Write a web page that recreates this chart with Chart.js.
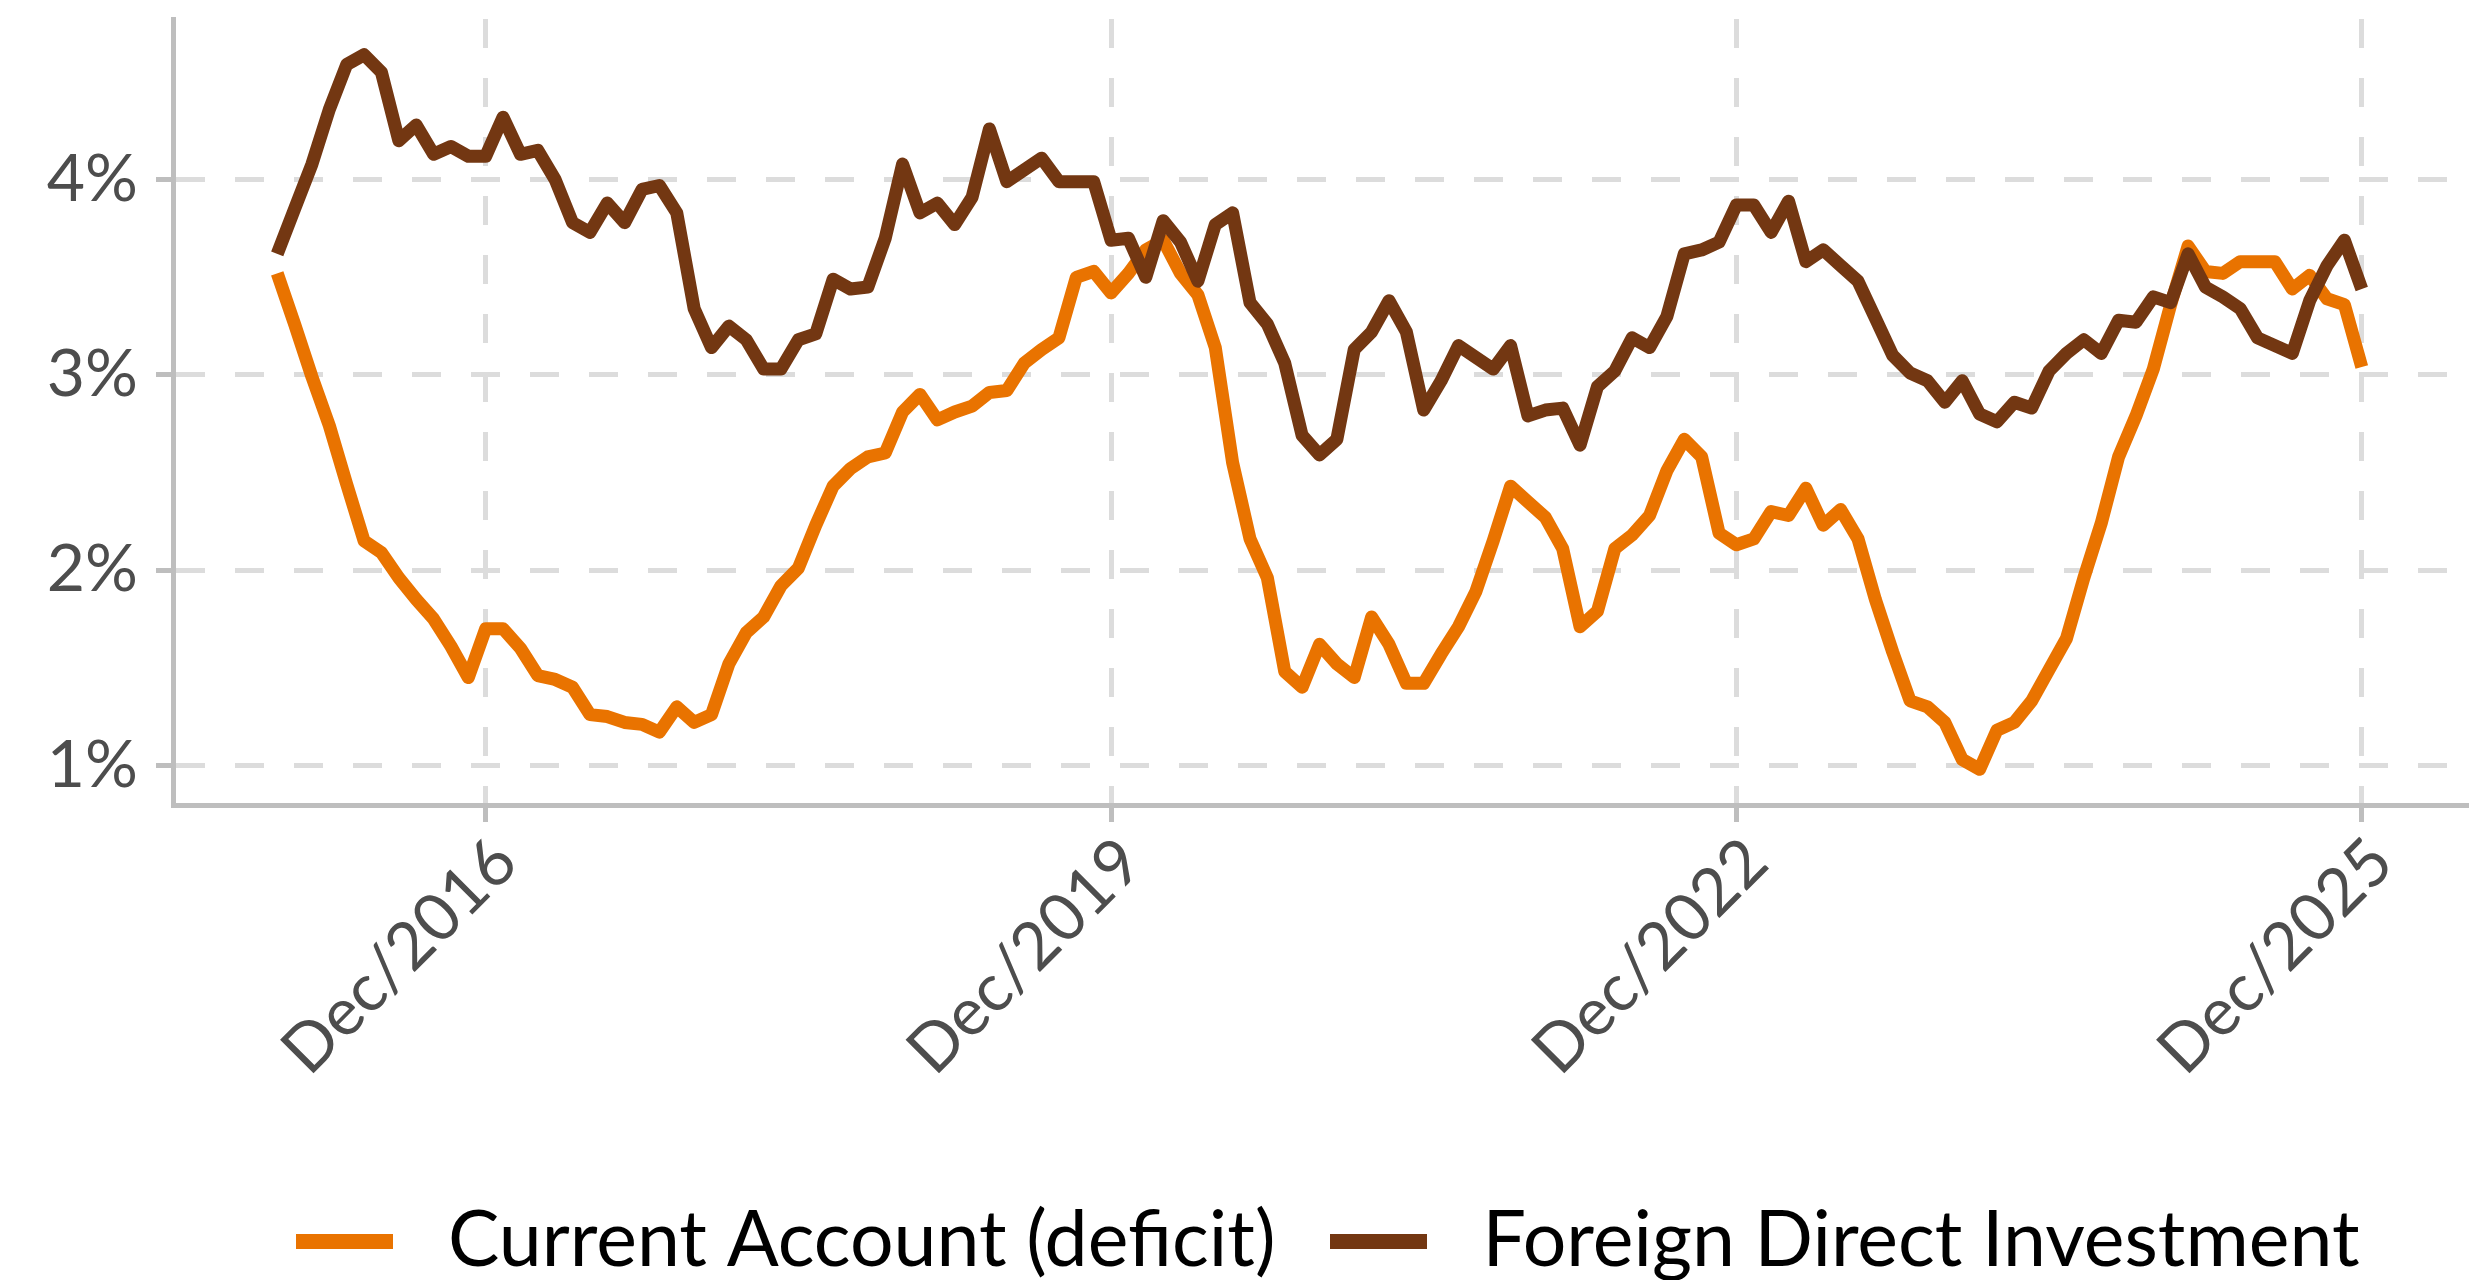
<!DOCTYPE html>
<html>
<head>
<meta charset="utf-8">
<script src="https://cdn.jsdelivr.net/npm/chart.js@4.4.1/dist/chart.umd.min.js"></script>
<style>
  html, body { margin: 0; padding: 0; background: #ffffff; }
</style>
</head>
<body>
<canvas id="bopChart" width="2476" height="1280"></canvas>
<script>
// monthly periods, Dec/2015 .. Dec/2025
const monthNames = ['Jan', 'Feb', 'Mar', 'Apr', 'May', 'Jun', 'Jul', 'Aug', 'Sep', 'Oct', 'Nov', 'Dec'];
const periods = [];
for (let k = 0; k <= 120; k++) {
    const m = (11 + k) % 12;
    const y = 2015 + Math.floor((11 + k) / 12);
    periods.push(monthNames[m] + '/' + y);
}

// % of GDP, 12-month accumulated
const currentAccount = [
    3.52, 3.26, 2.99, 2.74, 2.44, 2.15, 2.09, 1.96, 1.85, 1.75, 1.61, 1.45,
    1.70, 1.70, 1.60, 1.46, 1.44, 1.40, 1.26, 1.25, 1.22, 1.21, 1.17, 1.30,
    1.22, 1.26, 1.52, 1.68, 1.76, 1.92, 2.01, 2.23, 2.43, 2.52, 2.58, 2.60,
    2.81, 2.90, 2.77, 2.81, 2.84, 2.91, 2.92, 3.06, 3.13, 3.19, 3.50, 3.53,
    3.42, 3.52, 3.64, 3.69, 3.52, 3.41, 3.14, 2.55, 2.16, 1.96, 1.48, 1.40,
    1.62, 1.52, 1.45, 1.76, 1.62, 1.42, 1.42, 1.57, 1.71, 1.89, 2.15, 2.43,
    2.35, 2.27, 2.11, 1.71, 1.79, 2.11, 2.18, 2.28, 2.51, 2.67, 2.58, 2.19,
    2.13, 2.16, 2.30, 2.28, 2.42, 2.23, 2.31, 2.16, 1.85, 1.58, 1.33, 1.30,
    1.22, 1.03, 0.98, 1.18, 1.22, 1.33, 1.49, 1.65, 1.96, 2.24, 2.58, 2.79,
    3.03, 3.36, 3.66, 3.53, 3.52, 3.58, 3.58, 3.58, 3.44, 3.51, 3.39, 3.36,
    3.04
];
const foreignDirectInvestment = [
    3.62, 3.85, 4.08, 4.36, 4.59, 4.64, 4.55, 4.20, 4.28, 4.13, 4.17, 4.12,
    4.12, 4.32, 4.13, 4.15, 4.00, 3.78, 3.73, 3.88, 3.78, 3.95, 3.97, 3.83,
    3.34, 3.14, 3.25, 3.18, 3.03, 3.03, 3.18, 3.21, 3.49, 3.44, 3.45, 3.70,
    4.08, 3.83, 3.88, 3.77, 3.91, 4.26, 3.99, 4.05, 4.11, 3.99, 3.99, 3.99,
    3.69, 3.70, 3.50, 3.79, 3.68, 3.48, 3.77, 3.83, 3.37, 3.26, 3.06, 2.69,
    2.59, 2.67, 3.13, 3.22, 3.38, 3.22, 2.82, 2.97, 3.15, 3.09, 3.03, 3.15,
    2.79, 2.82, 2.83, 2.64, 2.94, 3.02, 3.19, 3.14, 3.30, 3.62, 3.64, 3.68,
    3.87, 3.87, 3.73, 3.89, 3.58, 3.64, 3.56, 3.48, 3.29, 3.10, 3.01, 2.97,
    2.86, 2.97, 2.80, 2.76, 2.86, 2.83, 3.02, 3.11, 3.18, 3.11, 3.28, 3.27,
    3.40, 3.37, 3.62, 3.45, 3.40, 3.34, 3.19, 3.15, 3.11, 3.38, 3.56, 3.69,
    3.44
];

const seriesNames = ['Current Account (deficit)', 'Foreign Direct Investment'];
const seriesColors = ['#e97300', '#733712'];
const xTickLabels = ['Dec/2016', 'Dec/2019', 'Dec/2022', 'Dec/2025'];
const yTickValues = [1, 2, 3, 4];

const axisGrey = '#bebebe';
const gridGrey = '#dcdcdc';

Chart.defaults.font.family = 'Lato, "DejaVu Sans", sans-serif';

function toPoints(values) {
    return values.map((v, i) => ({ x: i, y: v }));
}

// legend key: a short thick bar, like ggplot's line key
function legendKey(color) {
    const c = document.createElement('canvas');
    c.width = 97;
    c.height = 15;
    const g = c.getContext('2d');
    g.fillStyle = color;
    g.fillRect(0, 0, c.width, c.height);
    return c;
}

// ggplot centres the legend under the panel, and has no extra gap below it
const legendUnderPanel = {
    id: 'legendUnderPanel',
    afterLayout(chart) {
        const lg = chart.legend;
        const area = chart.chartArea;
        const shift = (area.left + area.right) / 2 - (lg.left + lg.right) / 2;
        lg.left += shift;
        lg.right += shift;
        lg.top += 10;
        lg.bottom += 10;
    }
};

const ctx = document.getElementById('bopChart').getContext('2d');

new Chart(ctx, {
    type: 'line',
    data: {
        datasets: [{
            label: seriesNames[0],
            data: toPoints(currentAccount),
            borderColor: seriesColors[0],
            backgroundColor: seriesColors[0],
            borderWidth: 13,
            borderJoinStyle: 'round',
            borderCapStyle: 'butt',
            pointRadius: 0,
            tension: 0,
            order: 1
        }, {
            label: seriesNames[1],
            data: toPoints(foreignDirectInvestment),
            borderColor: seriesColors[1],
            backgroundColor: seriesColors[1],
            borderWidth: 13,
            borderJoinStyle: 'round',
            borderCapStyle: 'butt',
            pointRadius: 0,
            tension: 0,
            order: 0
        }]
    },
    options: {
        responsive: false,
        animation: false,
        events: [],
        layout: {
            padding: { top: 19, right: 10, bottom: 0, left: 0 }
        },
        scales: {
            x: {
                type: 'linear',
                min: -6,
                max: 126,
                afterBuildTicks: function(scale) {
                    scale.ticks = xTickLabels.map(l => ({ value: periods.indexOf(l) }));
                },
                afterFit: function(scale) {
                    scale.height = 349.5;
                    scale.paddingLeft = 0;
                    scale.paddingRight = 0;
                },
                ticks: {
                    autoSkip: false,
                    minRotation: 45,
                    maxRotation: 45,
                    padding: 1,
                    labelOffset: 20,
                    color: '#4d4d4d',
                    font: { size: 66 },
                    callback: function(value) {
                        return periods[value];
                    }
                },
                grid: {
                    color: gridGrey,
                    lineWidth: 5,
                    tickLength: 17,
                    tickColor: axisGrey,
                    tickWidth: 5
                },
                border: {
                    color: axisGrey,
                    width: 5,
                    dash: [29, 30]
                }
            },
            y: {
                min: 0.797,
                max: 4.823,
                afterBuildTicks: function(scale) {
                    scale.ticks = yTickValues.map(v => ({ value: v }));
                },
                afterFit: function(scale) {
                    scale.width = 173;
                    scale.paddingTop = 0;
                    scale.paddingBottom = 0;
                },
                ticks: {
                    padding: 18,
                    color: '#4d4d4d',
                    font: { size: 66 },
                    callback: function(value) {
                        return value + '%';
                    }
                },
                grid: {
                    color: gridGrey,
                    lineWidth: 5,
                    tickLength: 17,
                    tickColor: axisGrey,
                    tickWidth: 5
                },
                border: {
                    color: axisGrey,
                    width: 5,
                    dash: [29, 30]
                }
            }
        },
        plugins: {
            legend: {
                position: 'bottom',
                labels: {
                    usePointStyle: true,
                    pointStyleWidth: 130,
                    padding: 38.5,
                    color: '#000000',
                    font: { size: 77 },
                    generateLabels: function(chart) {
                        return chart.data.datasets.map((ds, i) => ({
                            text: ds.label,
                            fillStyle: ds.borderColor,
                            strokeStyle: ds.borderColor,
                            lineWidth: 0,
                            pointStyle: legendKey(ds.borderColor),
                            hidden: false,
                            datasetIndex: i
                        }));
                    }
                }
            },
            tooltip: { enabled: false }
        }
    },
    plugins: [legendUnderPanel]
});
</script>
</body>
</html>
